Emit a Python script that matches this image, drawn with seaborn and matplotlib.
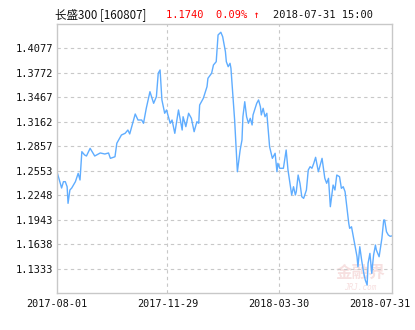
import matplotlib
matplotlib.use("Agg")
import matplotlib.pyplot as plt
import matplotlib.transforms as mtransforms
import seaborn as sns
import pandas as pd

dates = [
    "2017-08-01", "2017-08-06", "2017-08-08", "2017-08-10", "2017-08-12", "2017-08-13", "2017-08-15",
    "2017-08-17", "2017-08-21", "2017-08-24", "2017-08-26", "2017-08-28", "2017-08-31", "2017-09-02",
    "2017-09-06", "2017-09-11", "2017-09-17", "2017-09-22", "2017-09-26", "2017-09-28", "2017-10-03",
    "2017-10-05", "2017-10-10", "2017-10-14", "2017-10-17", "2017-10-19", "2017-10-25", "2017-10-28",
    "2017-11-01", "2017-11-03", "2017-11-06", "2017-11-10", "2017-11-14", "2017-11-17", "2017-11-19",
    "2017-11-21", "2017-11-23", "2017-11-26", "2017-11-28", "2017-12-02", "2017-12-04", "2017-12-07",
    "2017-12-11", "2017-12-13", "2017-12-15", "2017-12-16", "2017-12-19", "2017-12-22", "2017-12-25",
    "2017-12-28", "2017-12-31", "2018-01-02", "2018-01-03", "2018-01-07", "2018-01-11", "2018-01-12",
    "2018-01-16", "2018-01-18", "2018-01-21", "2018-01-23", "2018-01-26", "2018-01-28", "2018-01-31",
    "2018-02-01", "2018-02-03", "2018-02-05", "2018-02-06", "2018-02-09", "2018-02-10", "2018-02-13",
    "2018-02-16", "2018-02-18", "2018-02-19", "2018-02-21", "2018-02-23", "2018-02-25", "2018-02-27",
    "2018-03-01", "2018-03-02", "2018-03-06", "2018-03-08", "2018-03-10", "2018-03-11", "2018-03-13",
    "2018-03-15", "2018-03-17", "2018-03-20", "2018-03-23", "2018-03-26", "2018-03-28", "2018-03-29",
    "2018-03-31", "2018-04-04", "2018-04-07", "2018-04-09", "2018-04-13", "2018-04-15", "2018-04-17",
    "2018-04-18", "2018-04-20", "2018-04-22", "2018-04-24", "2018-04-26", "2018-04-29", "2018-05-01",
    "2018-05-03", "2018-05-05", "2018-05-07", "2018-05-09", "2018-05-12", "2018-05-16", "2018-05-19",
    "2018-05-21", "2018-05-23", "2018-05-25", "2018-05-28", "2018-05-30", "2018-06-01", "2018-06-04",
    "2018-06-06", "2018-06-08", "2018-06-10", "2018-06-14", "2018-06-15", "2018-06-17", "2018-06-19",
    "2018-06-23", "2018-06-24", "2018-06-26", "2018-06-28", "2018-06-30", "2018-07-02", "2018-07-04",
    "2018-07-05", "2018-07-07", "2018-07-09", "2018-07-11", "2018-07-13", "2018-07-14", "2018-07-17",
    "2018-07-20", "2018-07-22", "2018-07-23", "2018-07-25", "2018-07-27", "2018-07-29", "2018-07-31",
]

nav = [
    1.2540, 1.2337, 1.2416, 1.2416, 1.2353, 1.2146, 1.2312,
    1.2337, 1.2416, 1.2520, 1.2437, 1.2790, 1.2749, 1.2736,
    1.2832, 1.2736, 1.2774, 1.2761, 1.2774, 1.2707, 1.2727,
    1.2895, 1.2998, 1.3019, 1.3060, 1.3011, 1.3260, 1.3185,
    1.3185, 1.3144, 1.3331, 1.3538, 1.3393, 1.3476, 1.3768,
    1.3809, 1.3435, 1.3269, 1.3310, 1.3144, 1.3185, 1.3019,
    1.3310, 1.3185, 1.3060, 1.3226, 1.3102, 1.3269, 1.3206,
    1.3039, 1.3164, 1.3144, 1.3372, 1.3456, 1.3601, 1.3705,
    1.3768, 1.3871, 1.3912, 1.4245, 1.4279, 1.4224, 1.4037,
    1.3912, 1.3850, 1.3892, 1.3830, 1.3351, 1.3185, 1.2540,
    1.2811, 1.2936, 1.3226, 1.3413, 1.3226, 1.3144, 1.3206,
    1.3123, 1.3248, 1.3393, 1.3435, 1.3351, 1.3248, 1.3331,
    1.3226, 1.3269, 1.2852, 1.2707, 1.2770, 1.2540, 1.2645,
    1.2583, 1.2583, 1.2811, 1.2561, 1.2250, 1.2353, 1.2250,
    1.2291, 1.2499, 1.2396, 1.2228, 1.2208, 1.2312, 1.2561,
    1.2603, 1.2583, 1.2645, 1.2720, 1.2540, 1.2707, 1.2458,
    1.2396, 1.2458, 1.2104, 1.2374, 1.2312, 1.2499, 1.2478,
    1.2333, 1.2353, 1.2291, 1.1897, 1.1834, 1.1854, 1.1729,
    1.1480, 1.1355, 1.1605, 1.1439, 1.1293, 1.1189, 1.1127,
    1.1398, 1.1522, 1.1273, 1.1501, 1.1626, 1.1564, 1.1480,
    1.1709, 1.1938, 1.1938, 1.1792, 1.1751, 1.1735, 1.1740,
]

ytick_values = [1.1333, 1.1638, 1.1943, 1.2248, 1.2553, 1.2857, 1.3162, 1.3467, 1.3772, 1.4077]
xtick_labels = ["2017-08-01", "2017-11-29", "2018-03-30", "2018-07-31"]
title_name = "长盛300 [160807]"
title_price = "1.1740  0.09% ↑"
title_time = "2018-07-31 15:00"

sns.set_theme(style="white")
plt.rcParams['font.family'] = ['DejaVu Sans Mono', 'Noto Sans CJK SC', 'DejaVu Sans']

df = pd.DataFrame({"date": pd.to_datetime(dates), "nav": nav})

fig = plt.figure(figsize=(4.15, 3.30), dpi=100)
ax = fig.add_axes([57 / 415, 1 - 293 / 330, 335 / 415, 269 / 330])

sns.lineplot(data=df, x="date", y="nav", ax=ax, color="#5fadff", linewidth=1.0)

ax.set_xlim(pd.Timestamp("2017-08-01"), pd.Timestamp("2018-07-31"))
ax.set_ylim(1.1028, 1.4382)
ax.set_yticks(ytick_values)
ax.set_yticklabels([f"{v:.4f}" for v in ytick_values], fontsize=7.5, color="#111111")
ax.set_xticks(pd.to_datetime(xtick_labels))
ax.set_xticklabels(xtick_labels, fontsize=7.3, color="#111111")
ax.tick_params(axis="y", length=0, pad=3)
ax.tick_params(axis="x", length=0, pad=4)
ax.set_xlabel("")
ax.set_ylabel("")

last = ax.get_xticklabels()[-1]
last.set_transform(last.get_transform() + mtransforms.ScaledTranslation(-0.12, 0, fig.dpi_scale_trans))

ax.yaxis.grid(True, linestyle=(0, (3, 3)), color="#c8c8c8", linewidth=0.8)
for d in xtick_labels[1:-1]:
    ax.axvline(pd.Timestamp(d), linestyle=(0, (3, 3)), color="#c8c8c8", linewidth=0.8, zorder=0)
ax.set_axisbelow(True)
for s in ax.spines.values():
    s.set_color("#c8c8c8")
    s.set_linewidth(1.0)

# watermark
ax.text(0.905, 0.075, "金融界", transform=ax.transAxes, fontsize=12, color="#f7e0e0",
        ha="center", va="center", family=['Noto Sans CJK SC', 'DejaVu Sans'], zorder=0, fontweight="bold")
ax.text(0.905, 0.005, "JRJ.com", transform=ax.transAxes, fontsize=5.5, color="#f7e0e0",
        ha="center", va="bottom", zorder=0, style="italic")

fig.text(55 / 415, 1 - 15 / 330, title_name, fontsize=8.3, color="#111111", ha="left", va="center",
         family=['Noto Sans CJK SC', 'DejaVu Sans'])
fig.text(166 / 415, 1 - 15 / 330, title_price, fontsize=7.5, color="#ff0000", ha="left", va="center",
         family=['DejaVu Sans Mono', 'DejaVu Sans'])
fig.text(273 / 415, 1 - 15 / 330, title_time, fontsize=7.5, color="#111111", ha="left", va="center",
         family=['DejaVu Sans Mono', 'DejaVu Sans'])

fig.savefig("out.png", dpi=100, facecolor="white")
